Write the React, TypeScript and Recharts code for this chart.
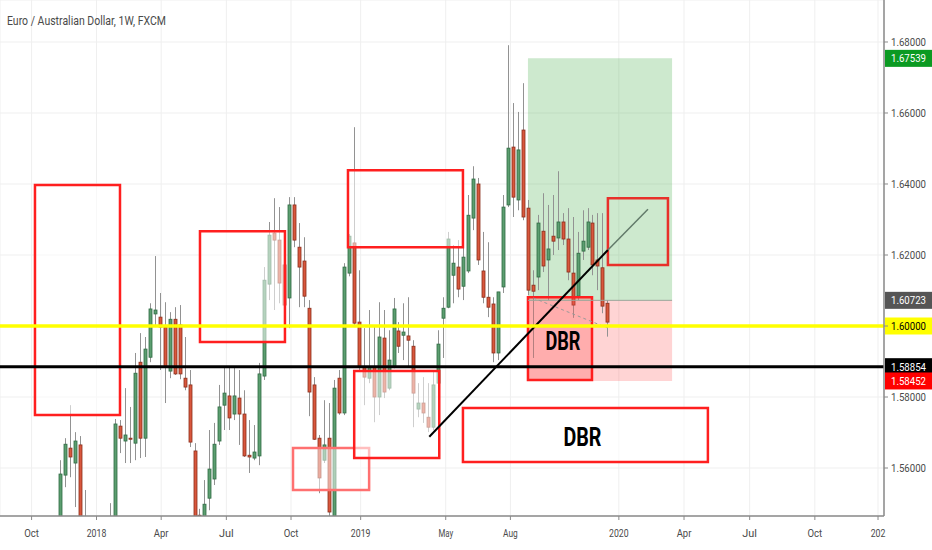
import React from 'react';
import { ComposedChart, Bar, XAxis, YAxis, CartesianGrid, ReferenceArea, ReferenceLine } from 'recharts';

// weekly EUR/AUD candles, index 0 = mid Nov 2017
const opens = [
  1.5397, 1.5580, 1.5656, 1.5614, 1.5665, 1.5400, 1.5330, 1.5280, 1.5350, 1.5300,
  1.5380, 1.5420, 1.5718, 1.5676, 1.5684, 1.5670, 1.5898, 1.5684, 1.5912, 1.6034,
  1.6025, 1.5997, 1.5873, 1.6019, 1.6003, 1.5853, 1.5834, 1.5648, 1.5467, 1.5462,
  1.5515, 1.5569, 1.5676, 1.5777, 1.5803, 1.5752, 1.5797, 1.5752, 1.5636, 1.5628,
  1.5634, 1.5859, 1.6118, 1.6262, 1.6242, 1.6172, 1.6079, 1.6341, 1.6222, 1.6183,
  1.6050, 1.5834, 1.5684, 1.5622, 1.5684, 1.5440, 1.5853, 1.5755, 1.6149, 1.6234,
  1.6011, 1.5884, 1.5853, 1.5884, 1.5800, 1.5966, 1.5825, 1.5884, 1.5986, 1.5974,
  1.5972, 1.5943, 1.5766, 1.5783, 1.5743, 1.5715, 1.5839, 1.6022, 1.6053, 1.6143,
  1.6166, 1.6112, 1.6155, 1.6304, 1.6400, 1.6155, 1.6081, 1.6062, 1.5924, 1.6110,
  1.6341, 1.6504, 1.6355, 1.6552, 1.6332, 1.6115, 1.6138, 1.6267, 1.6186, 1.6253,
  1.6248, 1.6293, 1.6245, 1.6149, 1.6084, 1.6211, 1.6222, 1.6290, 1.6186, 1.6164,
  1.6064,
];
const highs = [
  1.5622, 1.5684, 1.5777, 1.5701, 1.5690, 1.5538, 1.5420, 1.5400, 1.5420, 1.5440,
  1.5501, 1.5738, 1.5735, 1.5825, 1.5772, 1.5924, 1.5980, 1.5969, 1.6064, 1.6197,
  1.6093, 1.6067, 1.6039, 1.6053, 1.6059, 1.5969, 1.5876, 1.5670, 1.5485, 1.5566,
  1.5707, 1.5727, 1.5834, 1.5884, 1.5884, 1.5887, 1.5876, 1.5819, 1.5735, 1.5721,
  1.5896, 1.6166, 1.6293, 1.6360, 1.6335, 1.6256, 1.6363, 1.6363, 1.6290, 1.6250,
  1.6073, 1.5856, 1.5693, 1.5791, 1.5783, 1.5848, 1.5876, 1.6177, 1.6259, 1.6560,
  1.6157, 1.5994, 1.6045, 1.5997, 1.6067, 1.6045, 1.5988, 1.6079, 1.6011, 1.6064,
  1.6081, 1.5960, 1.5839, 1.5856, 1.5839, 1.5876, 1.5988, 1.6081, 1.6265, 1.6228,
  1.6242, 1.6222, 1.6369, 1.6450, 1.6417, 1.6265, 1.6236, 1.6081, 1.6096, 1.6369,
  1.6791, 1.6628, 1.6603, 1.6684, 1.6355, 1.6157, 1.6313, 1.6374, 1.6341, 1.6369,
  1.6436, 1.6318, 1.6332, 1.6307, 1.6265, 1.6326, 1.6332, 1.6313, 1.6318, 1.6318,
  1.6073,
];
const lows = [
  1.5374, 1.5546, 1.5574, 1.5490, 1.5369, 1.5300, 1.5250, 1.5220, 1.5260, 1.5270,
  1.5330, 1.5400, 1.5642, 1.5614, 1.5614, 1.5622, 1.5628, 1.5631, 1.5898, 1.5997,
  1.5876, 1.5783, 1.5853, 1.5862, 1.5850, 1.5819, 1.5659, 1.5383, 1.5400, 1.5440,
  1.5481, 1.5552, 1.5665, 1.5707, 1.5707, 1.5735, 1.5665, 1.5631, 1.5586, 1.5622,
  1.5608, 1.5848, 1.6073, 1.6045, 1.6064, 1.6050, 1.5994, 1.6222, 1.6053, 1.6053,
  1.5746, 1.5679, 1.5529, 1.5614, 1.5460, 1.5420, 1.5750, 1.5749, 1.6140, 1.5997,
  1.5876, 1.5777, 1.5839, 1.5729, 1.5749, 1.5797, 1.5819, 1.5881, 1.5924, 1.5904,
  1.5884, 1.5715, 1.5743, 1.5727, 1.5701, 1.5707, 1.5819, 1.5910, 1.6050, 1.6064,
  1.6081, 1.6073, 1.6149, 1.6270, 1.6172, 1.6064, 1.6025, 1.5898, 1.5904, 1.6093,
  1.6335, 1.6307, 1.6326, 1.6298, 1.6087, 1.5910, 1.6101, 1.6152, 1.6073, 1.6200,
  1.6214, 1.6228, 1.6129, 1.6023, 1.6073, 1.6186, 1.6214, 1.6143, 1.6101, 1.6036,
  1.5970,
];
const closes = [
  1.5583, 1.5667, 1.5631, 1.5676, 1.5397, 1.5330, 1.5280, 1.5350, 1.5300, 1.5380,
  1.5420, 1.5724, 1.5684, 1.5693, 1.5681, 1.5867, 1.5684, 1.5935, 1.6048, 1.6045,
  1.5997, 1.5884, 1.6019, 1.5865, 1.5865, 1.5828, 1.5673, 1.5400, 1.5460, 1.5498,
  1.5597, 1.5667, 1.5772, 1.5811, 1.5741, 1.5803, 1.5752, 1.5634, 1.5631, 1.5645,
  1.5865, 1.6129, 1.6256, 1.6242, 1.6121, 1.6059, 1.6341, 1.6242, 1.6166, 1.6084,
  1.5814, 1.5681, 1.5572, 1.5665, 1.5476, 1.5825, 1.5755, 1.6166, 1.6253, 1.6008,
  1.5884, 1.5856, 1.5884, 1.5800, 1.5969, 1.5814, 1.5904, 1.6048, 1.5943, 1.5983,
  1.5960, 1.5811, 1.5783, 1.5755, 1.5715, 1.5834, 1.5949, 1.6050, 1.6245, 1.6177,
  1.6104, 1.6194, 1.6312, 1.6414, 1.6186, 1.6081, 1.6053, 1.5924, 1.6096, 1.6335,
  1.6501, 1.6363, 1.6496, 1.6307, 1.6101, 1.6098, 1.6290, 1.6169, 1.6217, 1.6239,
  1.6293, 1.6245, 1.6152, 1.6059, 1.6205, 1.6239, 1.6293, 1.6172, 1.6169, 1.6056,
  1.6011,
];

const timeTicks = [-5.85, 7.2, 20.2, 33.3, 46.3, 60.3, 77.4, 90.4, 112.2, 125.3, 138.5, 151.6, 164.3];
const timeLabels = ['Oct', '2018', 'Apr', 'Jul', 'Oct', '2019', 'May', 'Aug', '2020', 'Apr', 'Jul', 'Oct', '202'];
const priceTicks = [1.56, 1.58, 1.6, 1.62, 1.64, 1.66, 1.68];

// levels drawn on the chart
const targetPrice = 1.67539;
const entryPrice = 1.60723;
const roundLevel = 1.6;
const supportLevel = 1.58854;
const stopPrice = 1.58452;

const data = opens.map((o, i) => ({ i, open: o, high: highs[i], low: lows[i], close: closes[i] }));

const FONT = "Roboto, 'Liberation Sans', sans-serif";

const Candle = (props: any) => {
  const { x, y, width, height, payload } = props;
  if (!payload || height == null) return null;
  const { open, close, high, low } = payload;
  const top = Math.min(y, y + height);
  const h = Math.abs(height);
  const k = h / (high - low);
  const yO = top + (high - open) * k;
  const yC = top + (high - close) * k;
  const up = close >= open;
  const cx = Math.round(x + width / 2) + 0.5;
  const bTop = Math.min(yO, yC);
  const bH = Math.max(Math.abs(yO - yC), 1);
  return (
    <g>
      <line x1={cx} x2={cx} y1={top} y2={top + h} stroke="#929292" strokeWidth={1} />
      <rect
        x={cx - 1.5}
        y={bTop}
        width={3}
        height={bH}
        fill={up ? '#5c9e70' : '#d9573d'}
        stroke={up ? '#2f6a43' : '#8a2d1b'}
        strokeWidth={0.8}
      />
    </g>
  );
};

const Badge = (props: any) => {
  const { viewBox, text, bg, color } = props;
  if (!viewBox) return null;
  const x = viewBox.x + viewBox.width + 1;
  const y = viewBox.y;
  return (
    <g>
      <rect x={x} y={y - 8.5} width={47} height={17} fill={bg} />
      <text x={x + 6} y={y + 4} fill={color} fontSize={11.5} fontFamily={FONT} textLength={35} lengthAdjust="spacingAndGlyphs">{text}</text>
    </g>
  );
};

const PriceTick = (props: any) => {
  const { x, y, payload } = props;
  // the 1.60000 label sits under the yellow badge
  if (Math.abs(payload.value - roundLevel) < 1e-9) return null;
  return (
    <text x={x} y={y + 4} fill="#4a4a4a" fontSize={11} fontFamily={FONT} textLength={35} lengthAdjust="spacingAndGlyphs">
      {payload.value.toFixed(5)}
    </text>
  );
};

const TimeTick = (props: any) => {
  const { x, y, payload } = props;
  const label = timeLabels[timeTicks.indexOf(payload.value)] ?? '';
  return (
    <text x={x} y={y + 11} fill="#4a4a4a" fontSize={11} fontFamily={FONT} textAnchor="middle" textLength={label.length * 4.9} lengthAdjust="spacingAndGlyphs">
      {label}
    </text>
  );
};

const DbrLabel = (props: any) => {
  const { viewBox, size, w, dx = 0, dy = 0 } = props;
  if (!viewBox) return null;
  const cx = viewBox.x + viewBox.width / 2 + dx;
  const cy = viewBox.y + viewBox.height / 2 + dy;
  return (
    <text x={cx - w / 2} y={cy + size * 0.36} fontSize={size} fontWeight="bold" fontFamily={FONT} fill="#000" textLength={w} lengthAdjust="spacingAndGlyphs">
      DBR
    </text>
  );
};

export default function App() {
  return (
    <div style={{ position: 'absolute', left: 0, top: 0, width: 932, height: 550, background: '#fff' }}>
      <ComposedChart width={932} height={550} data={data} margin={{ top: 0, right: 0, bottom: 0, left: 0 }}>
        <CartesianGrid stroke="#efefef" />
        <XAxis
          type="number"
          dataKey="i"
          domain={[-12.2, 165.5]}
          allowDataOverflow
          ticks={timeTicks}
          interval={0}
          height={34}
          tick={<TimeTick />}
          tickSize={4}
          tickMargin={6}
          axisLine={{ stroke: '#8a8a8a', strokeWidth: 1.5 }}
          tickLine={{ stroke: '#8a8a8a' }}
        />
        <YAxis
          orientation="right"
          domain={[1.54648, 1.69183]}
          allowDataOverflow
          ticks={priceTicks}
          interval={0}
          width={48}
          tick={<PriceTick />}
          tickSize={4}
          tickMargin={3}
          axisLine={{ stroke: '#8a8a8a', strokeWidth: 1.5 }}
          tickLine={{ stroke: '#8a8a8a' }}
        />

        {/* long position tool */}
        <ReferenceArea x1={93.93} x2={122.9} y1={entryPrice} y2={targetPrice} fill="#4caf50" fillOpacity={0.28} stroke="none" zIndex={50} />
        <ReferenceArea x1={93.93} x2={122.9} y1={stopPrice} y2={entryPrice} fill="#ff5252" fillOpacity={0.25} stroke="none" zIndex={50} />

        <Bar dataKey={(d: any) => [d.low, d.high]} barSize={4} shape={<Candle />} isAnimationActive={false} />

        <ReferenceLine segment={[{ x: 93.93, y: entryPrice }, { x: 122.9, y: entryPrice }]} stroke="#9aa59a" strokeWidth={1} zIndex={360} />

        {/* zones */}
        <ReferenceArea x1={-5.17} x2={11.92} y1={1.5749} y2={1.6397} fill="#fff" fillOpacity={0.55} stroke="#ff1f1f" strokeWidth={2.5} zIndex={350} />
        <ReferenceArea x1={28.0} x2={45.08} y1={1.5955} y2={1.6267} fill="#fff" fillOpacity={0.55} stroke="#ff1f1f" strokeWidth={2.5} zIndex={350} />
        <ReferenceArea x1={57.75} x2={80.86} y1={1.6222} y2={1.6439} fill="#fff" fillOpacity={0.55} stroke="#ff1f1f" strokeWidth={2.5} zIndex={350} />
        <ReferenceArea x1={46.7} x2={62.0} y1={1.5538} y2={1.5656} fill="#fff" fillOpacity={0.5} stroke="#ff7070" strokeWidth={2.5} zIndex={350} />
        <ReferenceArea x1={59.0} x2={76.1} y1={1.5628} y2={1.5873} fill="#fff" fillOpacity={0.55} stroke="#ff1f1f" strokeWidth={2.5} zIndex={350} />
        <ReferenceArea x1={110.0} x2={122.07} y1={1.6172} y2={1.636} fill="none" stroke="#e8302a" strokeWidth={2.5} zIndex={350} />
        <ReferenceArea
          x1={93.93}
          x2={106.8}
          y1={1.5848}
          y2={1.6081}
          fill="#ff5252"
          fillOpacity={0.3}
          stroke="#ff1f1f"
          strokeWidth={2.5}
          zIndex={350}
          label={<DbrLabel size={25} w={35} dx={3} dy={2} />}
        />
        <ReferenceArea
          x1={80.86}
          x2={130.1}
          y1={1.5617}
          y2={1.5769}
          fill="#fff"
          fillOpacity={0.6}
          stroke="#ff1f1f"
          strokeWidth={2.5}
          zIndex={350}
          label={<DbrLabel size={26} w={38} dx={-3} dy={2} />}
        />

        {/* trend line and path */}
        <ReferenceLine segment={[{ x: 95, y: 1.6079 }, { x: 110, y: 1.5994 }]} stroke="#999" strokeDasharray="3 3" strokeWidth={1} zIndex={400} />
        <ReferenceLine segment={[{ x: 74.1, y: 1.5688 }, { x: 110.0, y: 1.6214 }]} stroke="#000" strokeWidth={2} zIndex={400} />
        <ReferenceLine segment={[{ x: 110.0, y: 1.6214 }, { x: 118.05, y: 1.6329 }]} stroke="#627a6a" strokeWidth={1.5} zIndex={400} />

        {/* horizontal levels */}
        <ReferenceLine y={roundLevel} stroke="#ffff00" strokeWidth={3.5} zIndex={410}
          label={<Badge text="1.60000" bg="#ffff00" color="#000" />} />
        <ReferenceLine y={supportLevel} stroke="#000" strokeWidth={3} zIndex={410}
          label={<Badge text="1.58854" bg="#000" color="#fff" />} />
        <ReferenceLine y={targetPrice} stroke="none" zIndex={410}
          label={<Badge text="1.67539" bg="#0b9a22" color="#fff" />} />
        <ReferenceLine y={entryPrice} stroke="none" zIndex={410}
          label={<Badge text="1.60723" bg="#555" color="#fff" />} />
        <ReferenceLine y={stopPrice} stroke="none" zIndex={410}
          label={<Badge text="1.58452" bg="#ff0000" color="#fff" />} />
      </ComposedChart>
      <svg width={300} height={30} style={{ position: 'absolute', left: 0, top: 0 }}>
        <text x={7} y={25} fontSize={13.5} fontFamily={FONT} fill="#4a4a4a" textLength={159} lengthAdjust="spacingAndGlyphs">
          Euro / Australian Dollar, 1W, FXCM
        </text>
      </svg>
    </div>
  );
}
